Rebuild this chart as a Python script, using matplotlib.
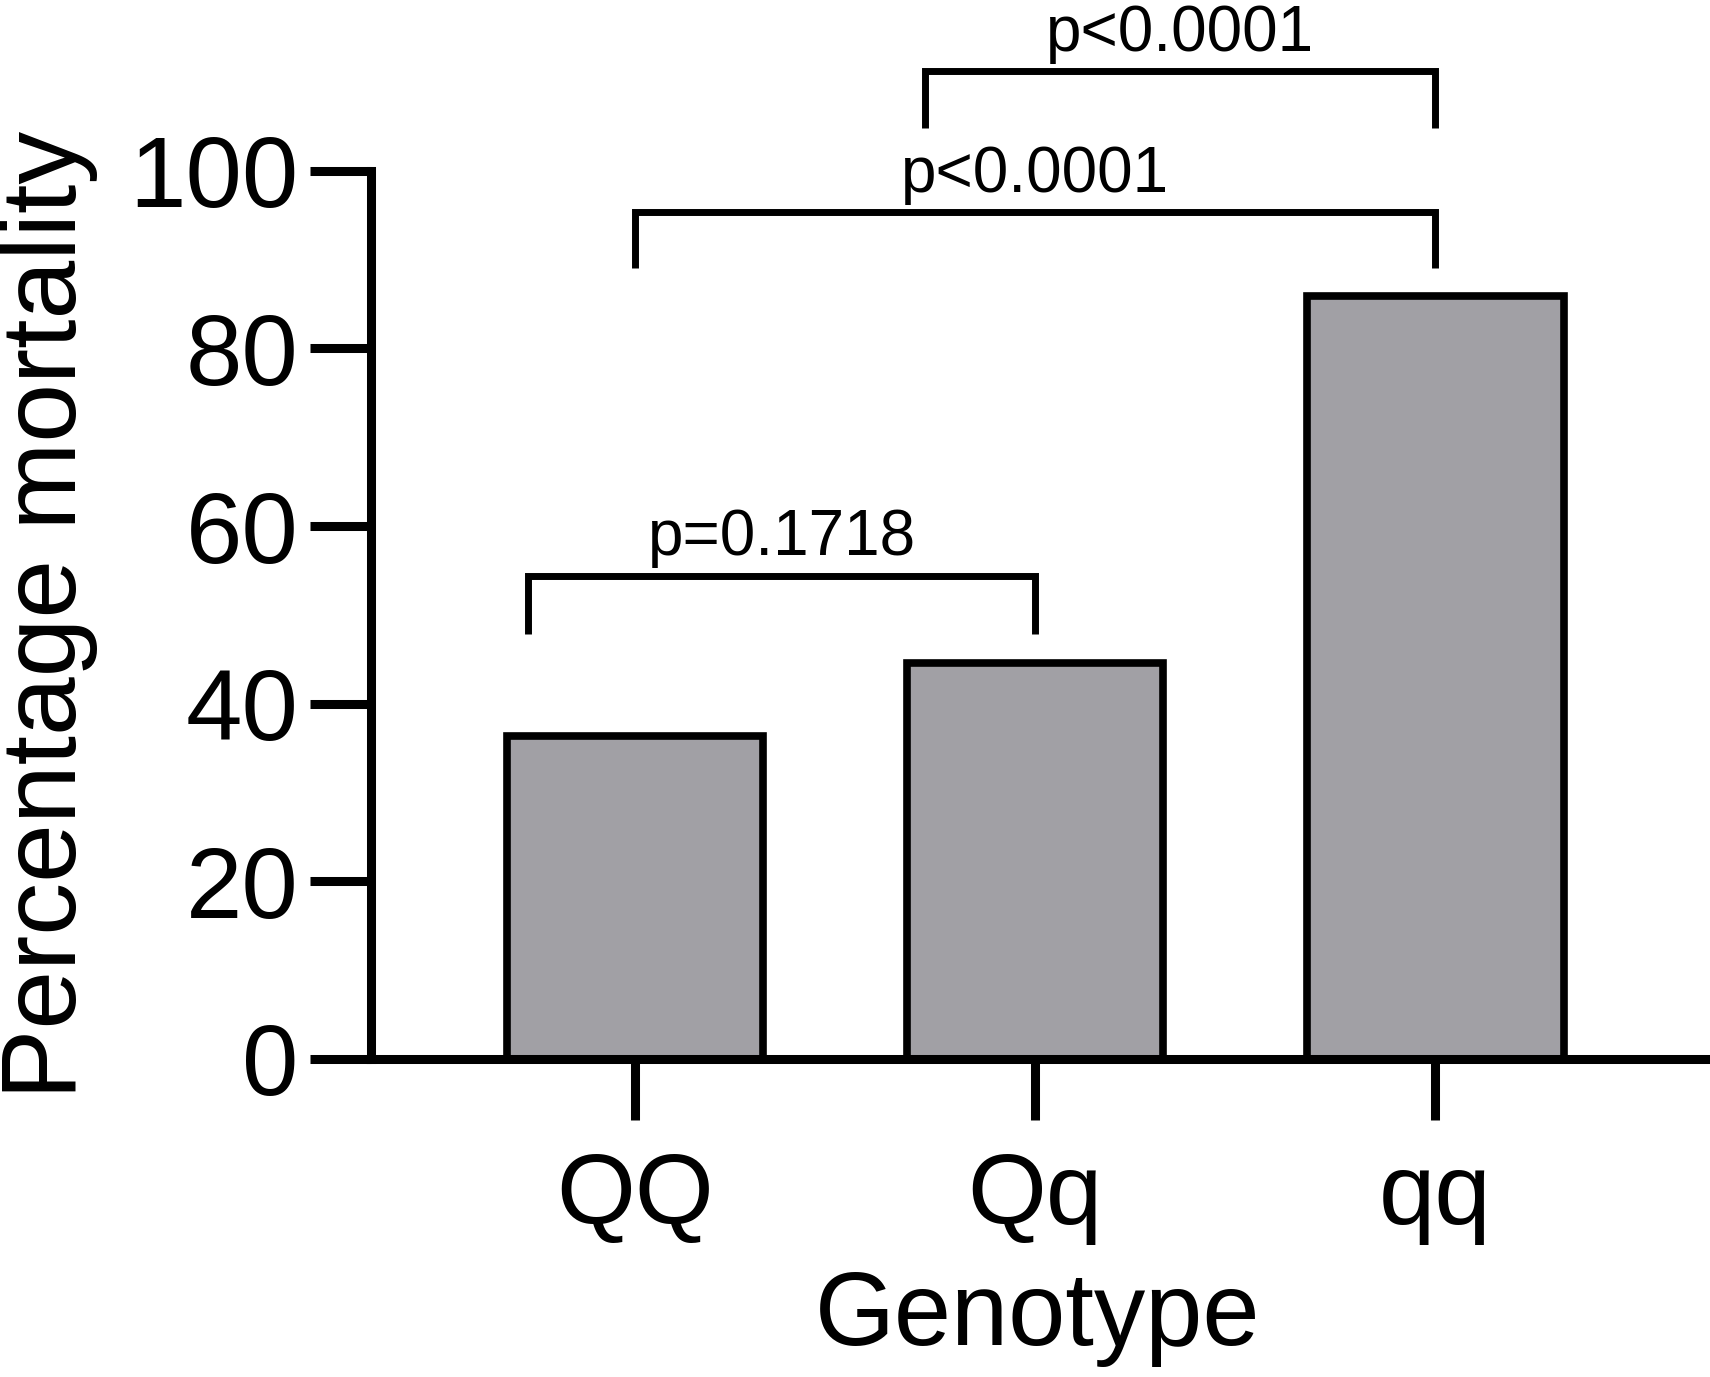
import matplotlib
matplotlib.use("Agg")
import matplotlib.pyplot as plt

# ================================
# DATA
# ================================

genotypes = ["QQ", "Qq", "qq"]
mortality = [36.4, 44.6, 85.9]

# comparison brackets: left x, right x, bar height, leg bottom, label
comparisons = [
    (-0.267, 1.0, 54.4, 47.8, "p=0.1718"),
    (0.0, 2.0, 95.3, 89.1, "p<0.0001"),
    (0.725, 2.0, 111.2, 104.8, "p<0.0001"),
]

plt.rcParams["font.family"] = ["Liberation Sans", "DejaVu Sans"]

# ================================
# FIGURE
# ================================

fig = plt.figure(figsize=(17.1, 13.77), dpi=100)
ax = fig.add_axes([0.217, 0.231, 0.780, 0.645])

x = list(range(len(genotypes)))
ax.bar(x, mortality, width=0.64, color="#a1a0a5",
       edgecolor="black", linewidth=5.5, zorder=2)

ax.set_xlim(-0.659, 2.673)
ax.set_ylim(0, 100)
ax.set_yticks([0, 20, 40, 60, 80, 100])
ax.set_xticks(x)
ax.set_xticklabels(genotypes)

for side in ["top", "right"]:
    ax.spines[side].set_visible(False)
for side in ["left", "bottom"]:
    ax.spines[side].set_linewidth(6.5)
    ax.spines[side].set_capstyle("projecting")

ax.tick_params(axis="y", length=44, width=6.5, labelsize=73, pad=8)
ax.tick_params(axis="x", length=44, width=6.5, labelsize=73, pad=22)

ax.set_xlabel("Genotype", fontsize=74, labelpad=18)
ax.set_ylabel("Percentage mortality", fontsize=76)
ax.yaxis.set_label_coords(-0.205, 0.5)

# ================================
# SIGNIFICANCE BRACKETS
# ================================

for x1, x2, yb, yl, label in comparisons:
    ax.plot([x1, x1, x2, x2], [yl, yb, yb, yl], color="black",
            linewidth=5.0, clip_on=False, solid_joinstyle="miter",
            solid_capstyle="butt")
    ax.text((x1 + x2) / 2, yb + 2.3, label, ha="center", va="baseline",
            fontsize=46, clip_on=False)

fig.savefig("out.png", dpi=100)
